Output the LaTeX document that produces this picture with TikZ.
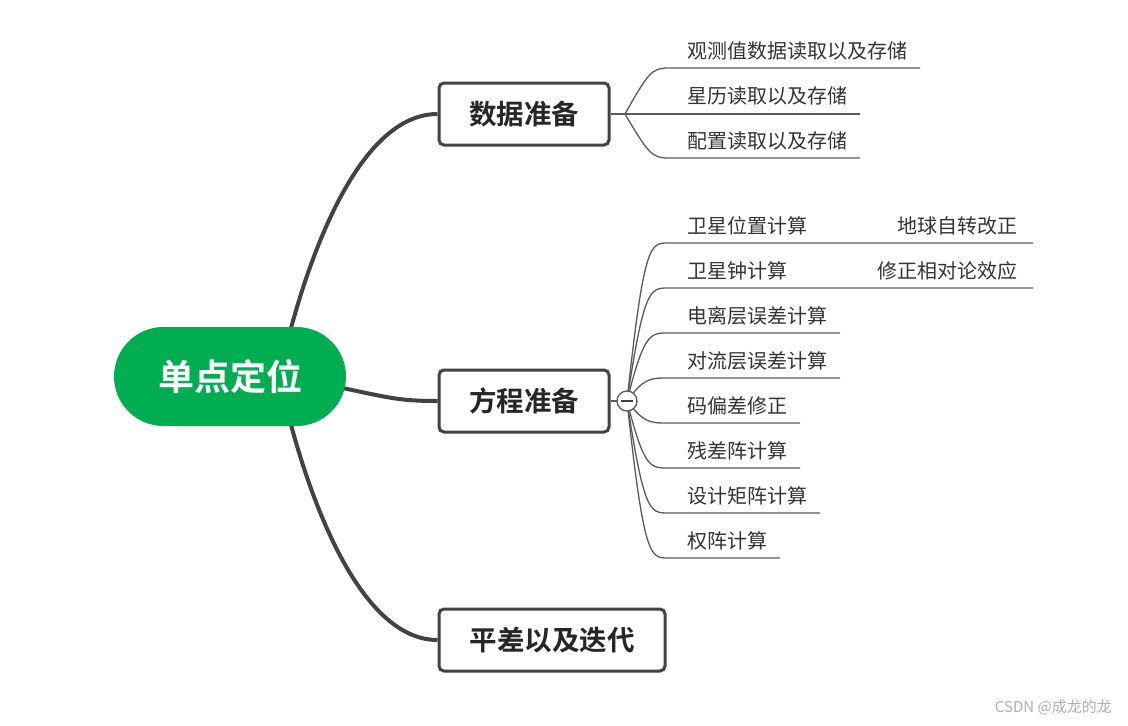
\documentclass[tikz,border=0pt]{standalone}
\usepackage{fontspec}
\setmainfont{Noto Sans CJK SC}[BoldFont={Noto Sans CJK SC Bold}]
\usepackage{xcolor}
\usetikzlibrary{positioning,calc,backgrounds}
\definecolor{rootgreen}{RGB}{0,173,80}
\definecolor{branchgray}{RGB}{66,66,66}
\definecolor{twiggray}{RGB}{90,90,90}
\definecolor{titlegray}{RGB}{38,38,38}
\definecolor{textgray}{RGB}{51,51,51}
\definecolor{markgray}{RGB}{175,175,175}

\begin{document}
\begin{tikzpicture}[x=1pt, y=-1pt]
  % Define styles
  \tikzstyle{rootnode} = [rectangle, fill=rootgreen, rounded corners=49.5pt, minimum width=232pt, minimum height=99pt, inner sep=0pt, text=white, font=\fontsize{36}{40}\selectfont\bfseries]
  \tikzstyle{topic} = [rectangle, draw=branchgray, line width=3pt, rounded corners=5pt, minimum height=62pt, inner sep=0pt, text=titlegray, font=\fontsize{27.5}{30}\selectfont\bfseries]
  \tikzstyle{branch} = [draw=branchgray, line width=4pt]
  \tikzstyle{twig} = [draw=twiggray, line width=1.3pt]
  \tikzstyle{leaf} = [anchor=west, inner sep=0pt, text=textgray, font=\fontsize{20}{22}\selectfont]
  \tikzstyle{collapse} = [circle, draw=twiggray, fill=white, line width=1.3pt, minimum size=20pt, inner sep=0pt]

  \useasboundingbox (0,0) rectangle (1128,726);

  % Root and main topics
  \node [rootnode] (root) at (230,376.5) {单点定位};
  \node [topic, minimum width=170pt] (data) at (524,114) {数据准备};
  \node [topic, minimum width=170pt] (equa) at (524,401) {方程准备};
  \node [topic, minimum width=226pt] (adjust) at (552,640) {平差以及迭代};

  \begin{pgfonlayer}{background}
    \draw [branch] ([xshift=60pt, yshift=-5pt]root.north) .. controls (320,220) and (370,114) .. (data.west);
    \draw [branch] ([xshift=-6pt, yshift=-11pt]root.east) .. controls (390,398) and (400,401) .. (equa.west);
    \draw [branch] ([xshift=60pt, yshift=5pt]root.south) .. controls (320,533) and (370,640) .. (adjust.west);
  \end{pgfonlayer}

  % Data preparation
  \coordinate (datafan) at (625,114);
  \path (668,68) coordinate (d1s) (920,68) coordinate (d1e);
  \path (860,114) coordinate (d2e);
  \path (668,158) coordinate (d3s) (860,158) coordinate (d3e);
  \node [leaf] (d1) at (687,51) {观测值数据读取以及存储};
  \node [leaf] (d2) at (687,96) {星历读取以及存储};
  \node [leaf] (d3) at (687,141) {配置读取以及存储};
  \draw [twig] (data.east) -- (d2e);
  \draw [twig] (datafan) .. controls (648,73) and (652,68) .. (d1s) -- (d1e);
  \draw [twig] (datafan) .. controls (648,153) and (652,158) .. (d3s) -- (d3e);

  % Equation preparation
  \node [collapse] (fold) at (627,401) {};
  \draw [twig, draw=branchgray] ([xshift=-6pt]fold.center) -- ([xshift=6pt]fold.center);
  \path (668,243) coordinate (e1s) (668,288) coordinate (e2s) (668,333) coordinate (e3s) (668,378) coordinate (e4s)
        (668,423) coordinate (e5s) (668,468) coordinate (e6s) (668,513) coordinate (e7s) (668,558) coordinate (e8s);
  \path (1033,243) coordinate (c1e) (1033,288) coordinate (c2e) (840,333) coordinate (e3e) (840,378) coordinate (e4e)
        (800,423) coordinate (e5e) (800,468) coordinate (e6e) (820,513) coordinate (e7e) (780,558) coordinate (e8e);
  \node [leaf] (e1) at (687,226) {卫星位置计算};
  \node [leaf] (e2) at (687,271) {卫星钟计算};
  \node [leaf] (e3) at (687,316) {电离层误差计算};
  \node [leaf] (e4) at (687,361) {对流层误差计算};
  \node [leaf] (e5) at (687,406) {码偏差修正};
  \node [leaf] (e6) at (687,451) {残差阵计算};
  \node [leaf] (e7) at (687,496) {设计矩阵计算};
  \node [leaf] (e8) at (687,541) {权阵计算};
  \node [leaf, anchor=east] (c1) at (1018,226) {地球自转改正};
  \node [leaf, anchor=east] (c2) at (1018,271) {修正相对论效应};

  \begin{pgfonlayer}{background}
    \draw [twig] (equa.east) -- (fold.center);
    \draw [twig] (fold.center) .. controls (644,243) and (650,243) .. (e1s) -- (c1e);
    \draw [twig] (fold.center) .. controls (644,288) and (650,288) .. (e2s) -- (c2e);
    \draw [twig] (fold.center) .. controls (644,333) and (650,333) .. (e3s) -- (e3e);
    \draw [twig] (fold.center) .. controls (644,378) and (650,378) .. (e4s) -- (e4e);
    \draw [twig] (fold.center) .. controls (644,423) and (650,423) .. (e5s) -- (e5e);
    \draw [twig] (fold.center) .. controls (644,468) and (650,468) .. (e6s) -- (e6e);
    \draw [twig] (fold.center) .. controls (644,513) and (650,513) .. (e7s) -- (e7e);
    \draw [twig] (fold.center) .. controls (644,558) and (650,558) .. (e8s) -- (e8e);
  \end{pgfonlayer}

  % Watermark
  \node [anchor=east, inner sep=0pt, text=markgray, font=\fontsize{15}{16}\selectfont] (mark) at (1112,707) {CSDN @成龙的龙};
\end{tikzpicture}
\end{document}
